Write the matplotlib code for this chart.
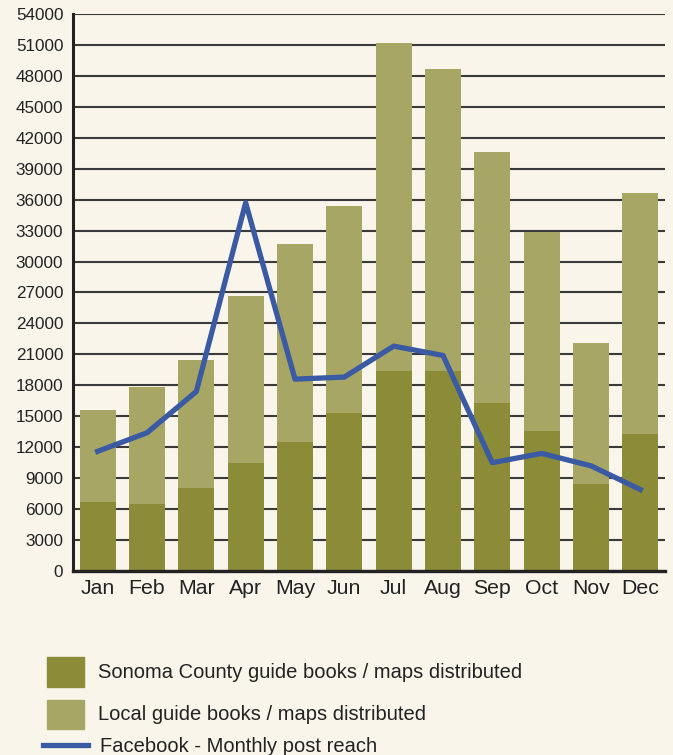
import matplotlib
matplotlib.use('Agg')
import matplotlib.pyplot as plt
from matplotlib.patches import Rectangle
from matplotlib.lines import Line2D
import numpy as np

plt.rcParams['font.family'] = ['Liberation Sans', 'DejaVu Sans']

months = ['Jan', 'Feb', 'Mar', 'Apr', 'May', 'Jun',
          'Jul', 'Aug', 'Sep', 'Oct', 'Nov', 'Dec']
# Sonoma County guide books / maps (lower, dark part)
sonoma = [6700, 6500, 8000, 10500, 12500, 15300,
          19400, 19400, 16300, 13600, 8400, 13300]
# total height of each stacked bar
totals = [15600, 17800, 20500, 26700, 31700, 35400,
          51200, 48700, 40600, 32900, 22100, 36600]
local = [t - s for t, s in zip(totals, sonoma)]
facebook = [11600, 13400, 17400, 35700, 18600, 18800,
            21800, 20900, 10500, 11400, 10200, 7900]

bg = '#f9f5ea'
dark_olive = '#8c8c38'
light_olive = '#a8a664'
blue = '#3a5aa3'
txt = '#222222'

fig = plt.figure(figsize=(6.73, 7.55), dpi=100, facecolor=bg)
ax = fig.add_axes([0.1085, 0.2437, 0.8795, 0.7378])
ax.set_facecolor(bg)

x = np.arange(len(months))
ax.bar(x, sonoma, width=0.73, color=dark_olive, zorder=2)
ax.bar(x, local, width=0.73, bottom=sonoma, color=light_olive, zorder=2)
ax.plot(x, facebook, color=blue, lw=3.8, zorder=3, solid_joinstyle='round')

ax.set_xlim(-0.5, 11.5)
ax.set_ylim(0, 54000)
ax.set_yticks(np.arange(0, 54001, 3000))
ax.set_yticklabels([str(v) for v in range(0, 54001, 3000)], fontsize=12.3, color=txt)
ax.set_xticks(x)
ax.set_xticklabels(months, fontsize=15.3, color=txt)
ax.tick_params(axis='both', length=0)
ax.tick_params(axis='y', pad=7)
ax.tick_params(axis='x', pad=6)

ax.yaxis.grid(True, color='#3a3a3a', lw=1.5, zorder=1)
ax.set_axisbelow(True)
for s in ['top', 'right']:
    ax.spines[s].set_visible(False)
ax.spines['left'].set_linewidth(2.2)
ax.spines['left'].set_color(txt)
ax.spines['bottom'].set_linewidth(2.4)
ax.spines['bottom'].set_color(txt)

# legend drawn by hand, rows at different spacing
W, H = 673.0, 755.0
def fx(px):
    return px / W
def fy(py):
    return 1 - py / H

fig.patches.append(Rectangle((fx(47), fy(687)), 37 / W, 30 / H,
                             transform=fig.transFigure, color=dark_olive))
fig.patches.append(Rectangle((fx(47), fy(729)), 37 / W, 29 / H,
                             transform=fig.transFigure, color=light_olive))
fig.lines.append(Line2D([fx(43), fx(88)], [fy(745), fy(745)],
                        transform=fig.transFigure, color=blue, lw=3.8))
fig.text(fx(98), fy(672), 'Sonoma County guide books / maps distributed',
         fontsize=14.5, va='center', color=txt)
fig.text(fx(98), fy(714), 'Local guide books / maps distributed',
         fontsize=14.5, va='center', color=txt)
fig.text(fx(100), fy(746), 'Facebook - Monthly post reach',
         fontsize=14.5, va='center', color=txt)

fig.savefig('out.png', dpi=100, facecolor=bg)
